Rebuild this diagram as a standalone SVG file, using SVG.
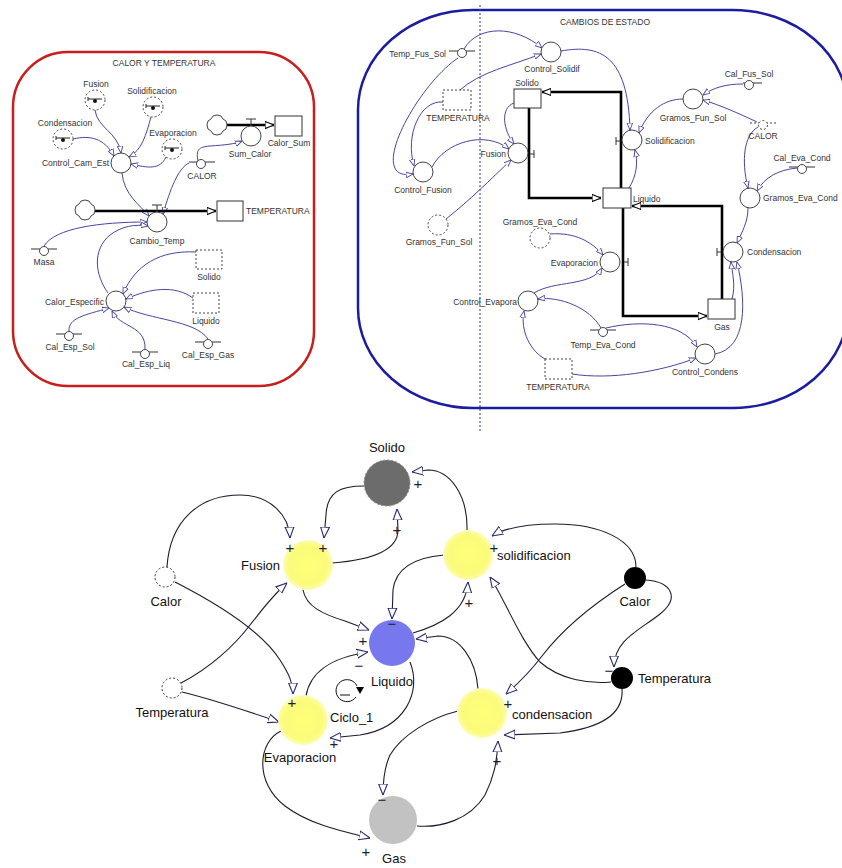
<svg xmlns="http://www.w3.org/2000/svg" width="842" height="868" viewBox="0 0 842 868">
<style>
.t{font-family:"Liberation Sans",Arial,sans-serif;font-size:8.5px;fill:#333}
.m{text-anchor:middle}.e{text-anchor:end}
.T{font-family:"Liberation Sans",Arial,sans-serif;font-size:13px;fill:#111}
.s{font-family:"Liberation Sans",Arial,sans-serif;font-size:15px;fill:#1c1c30;text-anchor:middle}
.lk{fill:none;stroke:#4646a0;stroke-width:1}
.fl{fill:none;stroke:#000;stroke-width:2.6}
.cv{fill:#fff;stroke:#444;stroke-width:1}
.gh{fill:#fff;stroke:#444;stroke-width:1;stroke-dasharray:2,2}
.bx{fill:#fff;stroke:#333;stroke-width:1}
.db{fill:#fff;stroke:#444;stroke-width:1;stroke-dasharray:2,2}
.bl{fill:none;stroke:#1c1c30;stroke-width:1.1}
.k{stroke:#333;stroke-width:1;fill:none}
</style>
<defs>
<marker id="a" viewBox="0 0 10 10" refX="10" refY="5" markerWidth="7" markerHeight="7" markerUnits="userSpaceOnUse" orient="auto"><path d="M0,1 L10,5 L0,9 Z" fill="#fff" stroke="#4646a0" stroke-width="1.3"/></marker>
<marker id="f" viewBox="0 0 10 10" refX="10" refY="5" markerWidth="9" markerHeight="9" markerUnits="userSpaceOnUse" orient="auto"><path d="M0,1 L10,5 L0,9 Z" fill="#fff" stroke="#000" stroke-width="1.2"/></marker>
<marker id="b" viewBox="0 0 10 10" refX="10" refY="5" markerWidth="11" markerHeight="11" markerUnits="userSpaceOnUse" orient="auto"><path d="M0,1 L10,5 L0,9 Z" fill="#fff" stroke="#2a2a70" stroke-width="1"/></marker>
<radialGradient id="y"><stop offset="0" stop-color="#ffff78"/><stop offset="0.8" stop-color="#fbfb7c"/><stop offset="1" stop-color="#fdfdb8"/></radialGradient>
<g id="ghostsym"><line x1="-7" y1="-1" x2="7" y2="-1" stroke="#222"/><line x1="-7" y1="-3" x2="-7" y2="1" stroke="#222"/><circle cx="0" cy="1" r="2" fill="#111"/></g>
</defs>

<!-- frames -->
<rect x="13" y="52" width="301" height="334" rx="55" ry="55" fill="none" stroke="#c81e1e" stroke-width="2.5"/>
<text class="t m" x="164" y="66">CALOR Y TEMPERATURA</text>
<rect x="358" y="10" width="490" height="398" rx="115" ry="100" fill="none" stroke="#1c1ca0" stroke-width="2.5"/>
<text class="t m" x="605" y="25">CAMBIOS DE ESTADO</text>
<line x1="480" y1="5" x2="480" y2="432" stroke="#3030b0" stroke-width="1" stroke-dasharray="2,2"/>

<!-- ============ LEFT MODEL ============ -->
<g id="connectors-left">
<path class="lk" d="M95,110 C97,128 118,132 121,153" marker-end="url(#a)"/>
<path class="lk" d="M151,117 C146,135 142,150 129,157" marker-end="url(#a)"/>
<path class="lk" d="M73,139 C90,135 104,138 114,156" marker-end="url(#a)"/>
<path class="lk" d="M166,157 C160,170 148,168 131,164" marker-end="url(#a)"/>
<path class="lk" d="M189,163 C178,168 170,190 163,214" marker-end="url(#a)"/>
<path class="lk" d="M122,173 C124,195 140,205 149,216" marker-end="url(#a)"/>
<path class="lk" d="M44,246 C55,228 100,222 147,222" marker-end="url(#a)"/>
<path class="lk" d="M108,293 C95,275 92,250 110,235 C122,226 135,224 148,226" marker-end="url(#a)"/>
<path class="lk" d="M198,161 C196,150 198,147 210,146 C225,145 235,144 242,141" marker-end="url(#a)"/>
<path class="lk" d="M196,252 C160,250 135,265 123,294" marker-end="url(#a)"/>
<path class="lk" d="M193,298 C175,285 150,288 126,299" marker-end="url(#a)"/>
<path class="lk" d="M69,331 C68,318 85,315 109,308" marker-end="url(#a)"/>
<path class="lk" d="M145,349 C146,325 120,328 112,311" marker-end="url(#a)"/>
<path class="lk" d="M208,339 C195,320 150,320 124,307" marker-end="url(#a)"/>
<path class="fl" d="M227,125 L274,125" marker-end="url(#f)"/>
<path class="fl" d="M95,211 L216,211" marker-end="url(#f)"/>
</g>
<g id="cloud1"><path class="cv" d="M207,125 Q207,120 211,119 Q212,115 217,115 Q222,115 223,119 Q227,120 227,125 Q227,130 223,131 Q222,135 217,135 Q212,135 211,131 Q207,130 207,125 Z"/></g>
<g id="cloud2"><path class="cv" d="M75,210 Q75,205 79,204 Q80,200 85,200 Q90,200 91,204 Q95,205 95,210 Q95,215 91,216 Q90,220 85,220 Q80,220 79,216 Q75,215 75,210 Z"/></g>
<g id="Sum_Calor"><line class="k" x1="246" y1="119" x2="256" y2="119"/><line class="k" x1="251" y1="119" x2="251" y2="126"/><circle class="cv" cx="251" cy="136" r="10"/><text class="t m" x="250" y="157">Sum_Calor</text></g>
<g id="Calor_Sum"><rect class="bx" x="275" y="116" width="27" height="20"/><text class="t m" x="289" y="146">Calor_Sum</text></g>
<g id="Cambio_Temp"><line class="k" x1="152" y1="205" x2="162" y2="205"/><line class="k" x1="157" y1="205" x2="157" y2="212"/><circle class="cv" cx="157" cy="222" r="10"/><text class="t m" x="157" y="244">Cambio_Temp</text></g>
<g id="TEMPERATURA-L"><rect class="bx" x="217" y="201" width="26" height="20"/><text class="t" x="246" y="214">TEMPERATURA</text></g>
<g id="Fusion-L"><circle class="gh" cx="95" cy="100" r="10"/><use href="#ghostsym" x="95" y="100"/><text class="t m" x="96" y="87">Fusion</text></g>
<g id="Solidificacion-L"><circle class="gh" cx="153" cy="107" r="10"/><use href="#ghostsym" x="153" y="107"/><text class="t m" x="152" y="94">Solidificacion</text></g>
<g id="Condensacion-L"><circle class="gh" cx="63" cy="139" r="10"/><use href="#ghostsym" x="63" y="139"/><text class="t m" x="65" y="126">Condensacion</text></g>
<g id="Evaporacion-L"><circle class="gh" cx="172" cy="149" r="10"/><use href="#ghostsym" x="172" y="149"/><text class="t m" x="173" y="136">Evaporacion</text></g>
<g id="Control_Cam_Est"><circle class="cv" cx="121" cy="163" r="10"/><text class="t e" x="109" y="166">Control_Cam_Est</text></g>
<g id="CALOR-L"><line class="k" x1="189" y1="162" x2="215" y2="162"/><circle class="cv" cx="201" cy="164" r="4.5"/><text class="t m" x="202" y="179">CALOR</text></g>
<g id="Masa"><line class="k" x1="31" y1="249" x2="57" y2="249"/><circle class="cv" cx="44" cy="251" r="4.5"/><text class="t m" x="44" y="265">Masa</text></g>
<g id="Solido-L"><rect class="db" x="196" y="250" width="26" height="19"/><text class="t m" x="209" y="280">Solido</text></g>
<g id="Liquido-L"><rect class="db" x="193" y="293" width="26" height="20"/><text class="t m" x="206" y="324">Liquido</text></g>
<g id="Calor_Especific"><circle class="cv" cx="116" cy="301" r="10"/><text class="t e" x="104" y="305">Calor_Especific</text></g>
<g id="Cal_Esp_Sol"><line class="k" x1="56" y1="334" x2="82" y2="334"/><circle class="cv" cx="69" cy="336" r="4.5"/><text class="t m" x="70" y="350">Cal_Esp_Sol</text></g>
<g id="Cal_Esp_Liq"><line class="k" x1="132" y1="352" x2="158" y2="352"/><circle class="cv" cx="145" cy="354" r="4.5"/><text class="t m" x="146" y="367">Cal_Esp_Liq</text></g>
<g id="Cal_Esp_Gas"><line class="k" x1="195" y1="342" x2="221" y2="342"/><circle class="cv" cx="208" cy="344" r="4.5"/><text class="t m" x="208" y="358">Cal_Esp_Gas</text></g>

<!-- ============ RIGHT MODEL ============ -->
<g id="connectors-right">
<path class="lk" d="M464,49 C478,25 515,25 542,48" marker-end="url(#a)"/>
<path class="lk" d="M460,90 C480,72 510,66 541,54" marker-end="url(#a)"/>
<path class="lk" d="M458,58 C425,80 382,150 396,170 C400,175 406,175 413,174" marker-end="url(#a)"/>
<path class="lk" d="M443,102 C420,100 405,135 414,166" marker-end="url(#a)"/>
<path class="lk" d="M432,167 C445,142 485,130 509,149" marker-end="url(#a)"/>
<path class="lk" d="M514,103 C500,108 503,130 514,144" marker-end="url(#a)"/>
<path class="lk" d="M446,219 C470,200 490,180 511,160" marker-end="url(#a)"/>
<path class="lk" d="M561,51 C600,44 628,55 630,130" marker-end="url(#a)"/>
<path class="lk" d="M683,99 C665,99 648,110 639,133" marker-end="url(#a)"/>
<path class="lk" d="M629,188 C637,175 638,162 635,150" marker-end="url(#a)"/>
<path class="lk" d="M743,84 C725,84 713,88 703,95" marker-end="url(#a)"/>
<path class="lk" d="M757,122 C740,114 720,105 703,100" marker-end="url(#a)"/>
<path class="lk" d="M758,127 C744,135 741,160 748,188" marker-end="url(#a)"/>
<path class="lk" d="M797,168 C778,170 765,177 757,191" marker-end="url(#a)"/>
<path class="lk" d="M748,208 C748,222 742,232 737,243" marker-end="url(#a)"/>
<path class="lk" d="M732,299 C736,285 732,272 731,262" marker-end="url(#a)"/>
<path class="lk" d="M715,354 C748,348 746,300 737,262" marker-end="url(#a)"/>
<path class="lk" d="M550,234 C575,232 592,242 603,255" marker-end="url(#a)"/>
<path class="lk" d="M534,293 C555,280 590,287 602,268" marker-end="url(#a)"/>
<path class="lk" d="M601,328 C590,308 560,296 538,299" marker-end="url(#a)"/>
<path class="lk" d="M606,328 C640,320 682,322 697,347" marker-end="url(#a)"/>
<path class="lk" d="M547,360 C530,352 520,330 524,311" marker-end="url(#a)"/>
<path class="lk" d="M572,374 C610,380 660,372 696,358" marker-end="url(#a)"/>
<path class="fl" d="M529,108 L529,198 L601,198" marker-end="url(#f)"/>
<path class="fl" d="M621,188 L621,92 L542,92" marker-end="url(#f)"/>
<path class="fl" d="M623,208 L623,316 L707,316" marker-end="url(#f)"/>
<path class="fl" d="M722,299 L722,206 L632,206" marker-end="url(#f)"/>
</g>
<g id="Temp_Fus_Sol"><line class="k" x1="449" y1="51" x2="475" y2="51"/><circle class="cv" cx="462" cy="53" r="4.5"/><text class="t e" x="446" y="57">Temp_Fus_Sol</text></g>
<g id="Control_Solidif"><circle class="cv" cx="551" cy="52" r="10"/><text class="t m" x="552" y="72">Control_Solidif</text></g>
<g id="TEMPERATURA-R1"><rect class="db" x="443" y="90" width="28" height="20"/><text class="t m" x="458" y="121">TEMPERATURA</text></g>
<g id="Solido-R"><rect class="bx" x="514" y="89" width="27" height="19"/><text class="t m" x="527" y="86">Solido</text></g>
<g id="Fusion-R"><line class="k" x1="530" y1="154" x2="534" y2="154"/><line class="k" x1="534" y1="150" x2="534" y2="158"/><circle class="cv" cx="518" cy="153" r="10"/><text class="t e" x="506" y="157">Fusion</text></g>
<g id="Control_Fusion"><circle class="cv" cx="423" cy="172" r="10"/><text class="t m" x="423" y="193">Control_Fusion</text></g>
<g id="Gramos_Fun_Sol-ghost"><circle class="gh" cx="438" cy="225" r="10"/><text class="t m" x="439" y="245">Gramos_Fun_Sol</text></g>
<g id="Solidificacion-R"><line class="k" x1="620" y1="141" x2="616" y2="141"/><line class="k" x1="616" y1="137" x2="616" y2="145"/><circle class="cv" cx="632" cy="140" r="10"/><text class="t" x="645" y="144">Solidificacion</text></g>
<g id="Gramos_Fun_Sol"><circle class="cv" cx="693" cy="99" r="10"/><text class="t m" x="693" y="121">Gramos_Fun_Sol</text></g>
<g id="Cal_Fus_Sol"><line class="k" x1="743" y1="83" x2="762" y2="83"/><circle class="cv" cx="749" cy="85" r="4.5"/><text class="t m" x="749" y="77">Cal_Fus_Sol</text></g>
<g id="CALOR-R"><line x1="750" y1="123" x2="776" y2="123" stroke="#444" stroke-dasharray="2,2"/><circle class="gh" cx="763" cy="125" r="4.5"/><text class="t m" x="763" y="139">CALOR</text></g>
<g id="Cal_Eva_Cond"><line class="k" x1="789" y1="167" x2="815" y2="167"/><circle class="cv" cx="802" cy="169" r="4.5"/><text class="t m" x="802" y="161">Cal_Eva_Cond</text></g>
<g id="Gramos_Eva_Cond"><circle class="cv" cx="750" cy="198" r="10"/><text class="t" x="763" y="201">Gramos_Eva_Cond</text></g>
<g id="Liquido-R"><rect class="bx" x="603" y="188" width="28" height="20"/><text class="t" x="633" y="202">Liquido</text></g>
<g id="Gramos_Eva_Cond-ghost"><circle class="gh" cx="540" cy="238" r="10"/><text class="t m" x="540" y="225">Gramos_Eva_Cond</text></g>
<g id="Evaporacion-R"><line class="k" x1="624" y1="262" x2="628" y2="262"/><line class="k" x1="628" y1="258" x2="628" y2="266"/><circle class="cv" cx="610" cy="262" r="10"/><text class="t e" x="598" y="266">Evaporacion</text></g>
<g id="Condensacion-R"><line class="k" x1="721" y1="252" x2="717" y2="252"/><line class="k" x1="717" y1="248" x2="717" y2="256"/><circle class="cv" cx="733" cy="252" r="10"/><text class="t" x="747" y="255">Condensacion</text></g>
<g id="Gas-R"><rect class="bx" x="708" y="299" width="27" height="20"/><text class="t m" x="722" y="330">Gas</text></g>
<g id="Control_Evapora"><circle class="cv" cx="528" cy="301" r="10"/><text class="t e" x="517" y="305">Control_Evapora</text></g>
<g id="Temp_Eva_Cond"><line class="k" x1="590" y1="330" x2="616" y2="330"/><circle class="cv" cx="603" cy="332" r="4.5"/><text class="t m" x="603" y="348">Temp_Eva_Cond</text></g>
<g id="Control_Condens"><circle class="cv" cx="705" cy="354" r="10"/><text class="t m" x="705" y="375">Control_Condens</text></g>
<g id="TEMPERATURA-R2"><rect class="db" x="545" y="359" width="27" height="20"/><text class="t m" x="558" y="390">TEMPERATURA</text></g>

<!-- ============ CAUSAL LOOP ============ -->
<g id="connectors-loop">
<path class="bl" d="M167,567 C170,520 200,495 240,495 C270,495 289,515 290,538" marker-end="url(#b)"/>
<path class="bl" d="M364,486 C340,486 327,492 326,515 L324,538" marker-end="url(#b)"/>
<path class="bl" d="M332,563 C372,560 398,550 398,530 L397,509" marker-end="url(#b)"/>
<path class="bl" d="M303,590 C306,606 322,614 345,621 L369,630" marker-end="url(#b)"/>
<path class="bl" d="M467,531 C468,495 450,470 428,470 L412,472" marker-end="url(#b)"/>
<path class="bl" d="M636,567 C636,540 600,524 555,524 C525,524 505,528 492,536" marker-end="url(#b)"/>
<path class="bl" d="M413,633 C440,625 466,612 468,582" marker-end="url(#b)"/>
<path class="bl" d="M444,555 C420,557 396,565 393,590 L392,619" marker-end="url(#b)"/>
<path class="bl" d="M478,689 C476,660 460,636 438,636 L416,639" marker-end="url(#b)"/>
<path class="bl" d="M410,662 C422,692 405,728 360,735 L330,738" marker-end="url(#b)"/>
<path class="bl" d="M306,696 C310,672 330,658 368,652" marker-end="url(#b)"/>
<path class="bl" d="M175,582 C220,605 262,632 280,660 C289,674 293,683 293,694" marker-end="url(#b)"/>
<path class="bl" d="M181,683 C210,668 235,645 250,625 C262,610 272,596 287,583" marker-end="url(#b)"/>
<path class="bl" d="M182,692 C215,700 250,712 279,722" marker-end="url(#b)"/>
<path class="bl" d="M281,731 C258,742 254,782 285,806 C310,825 345,832 370,838" marker-end="url(#b)"/>
<path class="bl" d="M458,711 C430,718 402,735 390,755 C384,768 383,780 383,795" marker-end="url(#b)"/>
<path class="bl" d="M417,826 C440,828 470,820 485,795 C494,777 497,762 498,741" marker-end="url(#b)"/>
<path class="bl" d="M625,584 C592,605 562,630 542,656 C527,676 515,686 506,694" marker-end="url(#b)"/>
<path class="bl" d="M646,580 C672,582 680,598 660,614 C640,630 614,640 614,667" marker-end="url(#b)"/>
<path class="bl" d="M611,682 C590,684 560,680 540,662 C520,640 505,600 490,577" marker-end="url(#b)"/>
<path class="bl" d="M622,689 C624,715 600,728 560,733 L504,735" marker-end="url(#b)"/>
</g>
<g id="Solido"><circle cx="387" cy="483" r="23" fill="#6c6c6c" stroke="#8a8a8a" stroke-dasharray="2,2"/><text class="T" x="387" y="452" text-anchor="middle">Solido</text></g>
<g id="Fusion"><circle cx="308" cy="565" r="25" fill="url(#y)"/><text class="T" x="280" y="570" text-anchor="end">Fusion</text></g>
<g id="Calor-ghost"><circle cx="165" cy="577" r="10" fill="#fff" stroke="#333" stroke-dasharray="2,2"/><text class="T" x="166" y="606" text-anchor="middle">Calor</text></g>
<g id="solidificacion"><circle cx="468" cy="555" r="25" fill="url(#y)"/><text class="T" x="497" y="560">solidificacion</text></g>
<g id="Calor"><circle cx="635" cy="578" r="11" fill="#000"/><text class="T" x="635" y="606" text-anchor="middle">Calor</text></g>
<g id="Liquido"><circle cx="392" cy="643" r="23" fill="#7878ee"/><text class="T" x="371" y="686">Liquido</text></g>
<g id="Ciclo_1"><path d="M356,697 A11,11 0 1 1 357,686" fill="none" stroke="#111" stroke-width="1"/><path d="M356,687 L364,687 L360,694 Z" fill="#000"/><line x1="340" y1="695" x2="350" y2="695" stroke="#111"/><text class="T" x="330" y="722">Ciclo_1</text></g>
<g id="Temperatura-ghost"><circle cx="172" cy="688" r="10" fill="#fff" stroke="#333" stroke-dasharray="2,2"/><text class="T" x="172" y="717" text-anchor="middle">Temperatura</text></g>
<g id="Evaporacion"><circle cx="303" cy="720" r="25" fill="url(#y)"/><text class="T" x="300" y="762" text-anchor="middle">Evaporacion</text></g>
<g id="Temperatura"><circle cx="622" cy="678" r="11" fill="#000"/><text class="T" x="638" y="683">Temperatura</text></g>
<g id="condensacion"><circle cx="482" cy="713" r="25" fill="url(#y)"/><text class="T" x="512" y="719">condensacion</text></g>
<g id="Gas"><circle cx="393" cy="820" r="24" fill="#c2c2c2"/><text class="T" x="394" y="863" text-anchor="middle">Gas</text></g>
<g id="polarity">
<text class="s" x="290" y="553">+</text>
<text class="s" x="323" y="553">+</text>
<text class="s" x="397" y="535">+</text>
<text class="s" x="363" y="646">+</text>
<text class="s" x="418" y="489">+</text>
<text class="s" x="494" y="553">+</text>
<text class="s" x="469" y="608">+</text>
<text class="s" x="392" y="629">−</text>
<text class="s" x="334" y="749">+</text>
<text class="s" x="359" y="671">−</text>
<text class="s" x="292" y="708">+</text>
<text class="s" x="366" y="857">+</text>
<text class="s" x="382" y="805">−</text>
<text class="s" x="497" y="766">+</text>
<text class="s" x="508" y="709">+</text>
<text class="s" x="609" y="676">−</text>
</g>
</svg>
